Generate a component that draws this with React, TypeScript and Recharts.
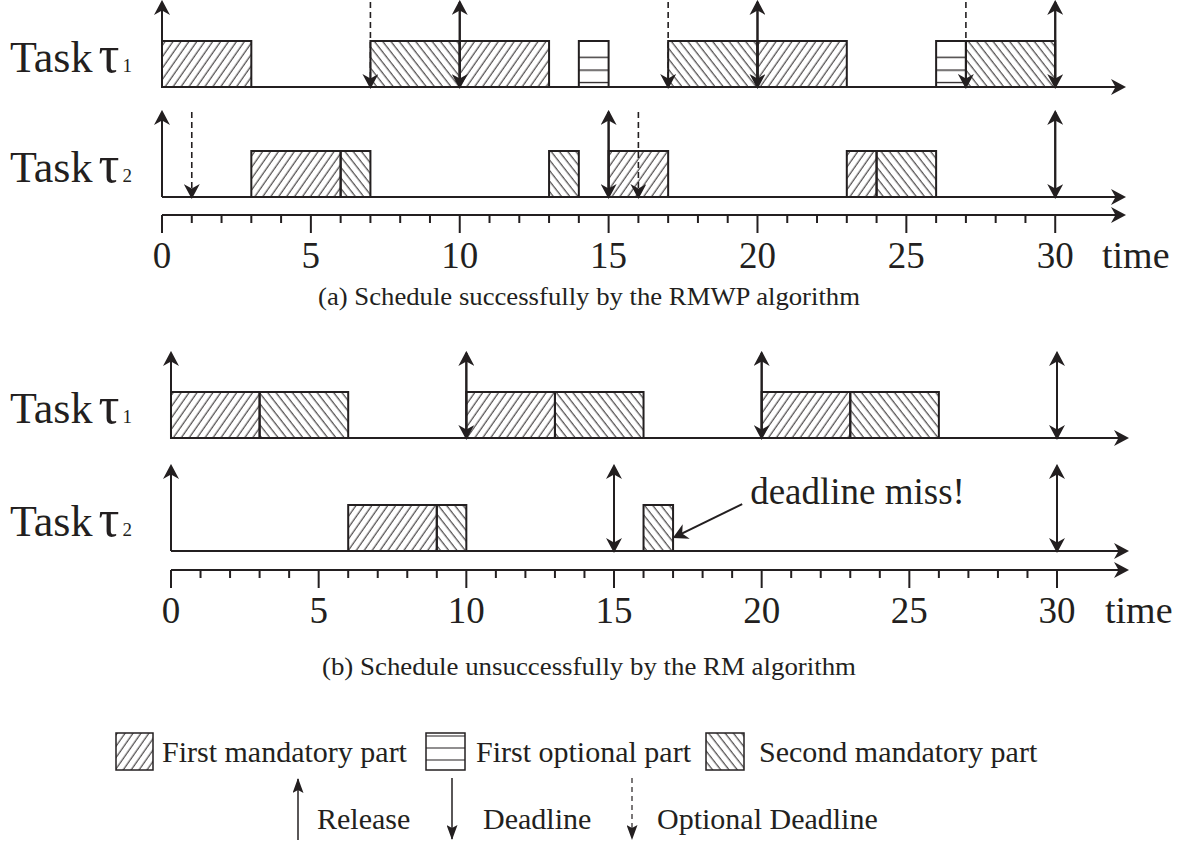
import React from "react";
import {
  ComposedChart,
  XAxis,
  YAxis,
  ReferenceArea,
  ReferenceLine,
  Label,
} from "recharts";

const INK = "#231f20";
const SERIF = '"Liberation Serif", "Times New Roman", Times, serif';

// time axis
const TIME_TICKS = [
  0, 1, 2, 3, 4, 5, 6, 7, 8, 9, 10, 11, 12, 13, 14, 15, 16, 17, 18, 19, 20,
  21, 22, 23, 24, 25, 26, 27, 28, 29, 30,
];
const MAJOR_TICKS = [0, 5, 10, 15, 20, 25, 30];
const TASK_NAMES = ["1", "2"];

type Part = "m1" | "o1" | "m2";
type Seg = { start: number; end: number; part: Part };

// (a) RMWP schedule
const rmwpTau1: Seg[] = [
  { start: 0, end: 3, part: "m1" },
  { start: 7, end: 10, part: "m2" },
  { start: 10, end: 13, part: "m1" },
  { start: 14, end: 15, part: "o1" },
  { start: 17, end: 20, part: "m2" },
  { start: 20, end: 23, part: "m1" },
  { start: 26, end: 27, part: "o1" },
  { start: 27, end: 30, part: "m2" },
];
const rmwpTau2: Seg[] = [
  { start: 3, end: 6, part: "m1" },
  { start: 6, end: 7, part: "m2" },
  { start: 13, end: 14, part: "m2" },
  { start: 15, end: 17, part: "m1" },
  { start: 23, end: 24, part: "m1" },
  { start: 24, end: 26, part: "m2" },
];
const rmwpTau1Release = [0, 10, 20, 30];
const rmwpTau1Deadline = [10, 20, 30];
const rmwpTau1OptDeadline = [7, 17, 27];
const rmwpTau2Release = [0, 15, 30];
const rmwpTau2Deadline = [15, 30];
const rmwpTau2OptDeadline = [1, 16];

// (b) RM schedule
const rmTau1: Seg[] = [
  { start: 0, end: 3, part: "m1" },
  { start: 3, end: 6, part: "m2" },
  { start: 10, end: 13, part: "m1" },
  { start: 13, end: 16, part: "m2" },
  { start: 20, end: 23, part: "m1" },
  { start: 23, end: 26, part: "m2" },
];
const rmTau2: Seg[] = [
  { start: 6, end: 9, part: "m1" },
  { start: 9, end: 10, part: "m2" },
  { start: 16, end: 17, part: "m2" },
];
const rmTau1Release = [0, 10, 20, 30];
const rmTau1Deadline = [10, 20, 30];
const rmTau2Release = [0, 15, 30];
const rmTau2Deadline = [15, 30];

// "deadline miss!" note: from text to end of the late job
const missFrom = { t: 19.34, y: 1.02 };
const missTo = { t: 17.05, y: 0.3 };

const BOX_H = 1;
const ARROW_H = 1.85;

const PATTERN: Record<Part, string> = {
  m1: "url(#hatchFwd)",
  o1: "url(#hatchOpt)",
  m2: "url(#hatchBack)",
};

type Row = {
  base: number;
  segs: Seg[];
  release: number[];
  deadline: number[];
  opt: number[];
};

const arrowLine =
  (head: string, width: number, dash?: string) => (p: any) =>
    (
      <line
        x1={p.x1}
        y1={p.y1}
        x2={p.x2}
        y2={p.y2}
        stroke={INK}
        strokeWidth={width}
        strokeDasharray={dash}
        markerEnd={`url(#${head})`}
      />
    );

const TimeTick = (p: any) => {
  const v = p.payload.value;
  const major = MAJOR_TICKS.includes(v);
  return (
    <g>
      <line
        x1={p.x}
        x2={p.x}
        y1={p.y}
        y2={p.y + (major ? 18 : 8)}
        stroke={INK}
        strokeWidth={2}
      />
      {major && (
        <text
          x={p.x}
          y={p.y + 53}
          textAnchor="middle"
          fontSize={37}
          fontFamily={SERIF}
          fill={INK}
        >
          {v}
        </text>
      )}
    </g>
  );
};

const TimeLabel = (p: any) => {
  const vb = p.viewBox;
  return (
    <text
      x={vb.x + vb.width - 22}
      y={vb.y + 53}
      fontSize={38}
      fontFamily={SERIF}
      fill={INK}
    >
      time
    </text>
  );
};

const taskTick = (rows: Row[]) => (p: any) => {
  const idx = rows.findIndex((r) => Math.abs(r.base - p.payload.value) < 1e-6);
  return (
    <text x={10} y={p.y - 15} fontFamily={SERIF} fontSize={44} fill={INK}>
      Task
      <tspan dx={6} fontSize={52}>
        τ
      </tspan>
      <tspan dx={3} fontSize={19}>
        {TASK_NAMES[idx]}
      </tspan>
    </text>
  );
};

type ScheduleProps = {
  top: number;
  height: number;
  marginTop: number;
  plotLeft: number;
  plotRight: number;
  xMax: number;
  yMin: number;
  yMax: number;
  rows: Row[];
  miss?: boolean;
};

const Schedule: React.FC<ScheduleProps> = ({
  top,
  height,
  marginTop,
  plotLeft,
  plotRight,
  xMax,
  yMin,
  yMax,
  rows,
  miss,
}) => (
  <div style={{ position: "absolute", left: 0, top }}>
    <ComposedChart
      width={1186}
      height={height}
      margin={{ top: marginTop, right: 1186 - plotRight, bottom: 0, left: 0 }}
    >
      <XAxis
        type="number"
        dataKey="t"
        domain={[0, xMax]}
        ticks={TIME_TICKS}
        interval={0}
        tickSize={0}
        tickMargin={0}
        tickLine={false}
        tick={TimeTick}
        axisLine={{ stroke: INK, strokeWidth: 2, markerEnd: "url(#axisHead)" }}
        height={60}
        allowDataOverflow
      >
        <Label content={TimeLabel} />
      </XAxis>
      <YAxis
        type="number"
        domain={[yMin, yMax]}
        ticks={rows.map((r) => r.base).sort((a, b) => a - b)}
        interval={0}
        width={plotLeft}
        axisLine={false}
        tickLine={false}
        tickSize={0}
        tickMargin={0}
        tick={taskTick(rows)}
        allowDataOverflow
      />
      {rows.map((r, ri) =>
        r.segs.map((s, i) => (
          <ReferenceArea
            key={`seg-${ri}-${i}`}
            x1={s.start}
            x2={s.end}
            y1={r.base}
            y2={r.base + BOX_H}
            fill={PATTERN[s.part]}
            fillOpacity={1}
            stroke={INK}
            strokeWidth={2}
            ifOverflow="visible"
          />
        ))
      )}
      {rows.map((r, ri) => (
        <ReferenceLine
          key={`base-${ri}`}
          segment={[
            { x: 0, y: r.base },
            { x: xMax, y: r.base },
          ]}
          ifOverflow="visible"
          shape={arrowLine("axisHead", 2)}
        />
      ))}
      {rows.map((r, ri) =>
        r.release.map((t) => (
          <ReferenceLine
            key={`rel-${ri}-${t}`}
            segment={[
              { x: t, y: r.base },
              { x: t, y: r.base + ARROW_H },
            ]}
            ifOverflow="visible"
            shape={arrowLine("head", 2)}
          />
        ))
      )}
      {rows.map((r, ri) =>
        r.deadline.map((t) => (
          <ReferenceLine
            key={`dl-${ri}-${t}`}
            segment={[
              { x: t, y: r.base + ARROW_H },
              { x: t, y: r.base },
            ]}
            ifOverflow="visible"
            shape={arrowLine("head", 2)}
          />
        ))
      )}
      {rows.map((r, ri) =>
        r.opt.map((t) => (
          <ReferenceLine
            key={`opt-${ri}-${t}`}
            segment={[
              { x: t, y: r.base + ARROW_H },
              { x: t, y: r.base },
            ]}
            ifOverflow="visible"
            shape={arrowLine("head", 1.6, "6 4")}
          />
        ))
      )}
      {miss && (
        <ReferenceLine
          segment={[
            { x: missFrom.t, y: missFrom.y },
            { x: missTo.t, y: missTo.y },
          ]}
          ifOverflow="visible"
          shape={(p: any) => (
            <g>
              {arrowLine("head", 2)(p)}
              <text
                x={p.x1 + 8}
                y={p.y1}
                fontSize={37}
                fontFamily={SERIF}
                fill={INK}
              >
                deadline miss!
              </text>
            </g>
          )}
        />
      )}
    </ComposedChart>
  </div>
);

const Defs = () => (
  <svg width={0} height={0} style={{ position: "absolute" }}>
    <defs>
      <pattern
        id="hatchFwd"
        patternUnits="userSpaceOnUse"
        width={6.5}
        height={10}
        patternTransform="rotate(35)"
      >
        <line x1={3} y1={0} x2={3} y2={10} stroke={INK} strokeWidth={1} />
      </pattern>
      <pattern
        id="hatchBack"
        patternUnits="userSpaceOnUse"
        width={6.5}
        height={10}
        patternTransform="rotate(-38)"
      >
        <line x1={3} y1={0} x2={3} y2={10} stroke={INK} strokeWidth={1} />
      </pattern>
      <pattern
        id="hatchOpt"
        patternUnits="objectBoundingBox"
        patternContentUnits="objectBoundingBox"
        width={1}
        height={1}
      >
        <rect x={0} y={0.34} width={1} height={0.028} fill={INK} />
        <rect x={0} y={0.62} width={1} height={0.028} fill={INK} />
        <rect x={0} y={0.89} width={1} height={0.028} fill={INK} />
      </pattern>
      <marker
        id="head"
        viewBox="0 0 15 16"
        markerWidth={15}
        markerHeight={16}
        refX={13}
        refY={8}
        orient="auto"
        markerUnits="userSpaceOnUse"
      >
        <path d="M0,0 L15,8 L0,16 L4.5,8 Z" fill={INK} />
      </marker>
      <marker
        id="axisHead"
        viewBox="0 0 15 16"
        markerWidth={15}
        markerHeight={16}
        refX={13}
        refY={8}
        orient="auto"
        markerUnits="userSpaceOnUse"
      >
        <path d="M0,0 L15,8 L0,16 L4.5,8 Z" fill={INK} />
      </marker>
      <marker
        id="smallHead"
        viewBox="0 0 15 11"
        markerWidth={15}
        markerHeight={11}
        refX={14}
        refY={5.5}
        orient="auto"
        markerUnits="userSpaceOnUse"
      >
        <path d="M0,0 L15,5.5 L0,11 L3,5.5 Z" fill={INK} />
      </marker>
    </defs>
  </svg>
);

const LegendAndCaptions = () => {
  const txt = { fontFamily: SERIF, fill: INK };
  return (
    <svg
      width={1186}
      height={845}
      style={{ position: "absolute", left: 0, top: 0, pointerEvents: "none" }}
    >
      <text
        x={589}
        y={305}
        textAnchor="middle"
        fontSize={25}
        textLength={542}
        lengthAdjust="spacingAndGlyphs"
        {...txt}
      >
        (a) Schedule successfully by the RMWP algorithm
      </text>
      <text
        x={589}
        y={675}
        textAnchor="middle"
        fontSize={25}
        textLength={534}
        lengthAdjust="spacingAndGlyphs"
        {...txt}
      >
        (b) Schedule unsuccessfully by the RM algorithm
      </text>

      <rect x={116} y={733} width={37} height={37} fill="url(#hatchFwd)" stroke={INK} strokeWidth={1.5} />
      <text x={162} y={762} fontSize={30} {...txt}>
        First mandatory part
      </text>
      <rect x={426} y={733} width={39} height={37} fill="#fff" stroke={INK} strokeWidth={1.5} />
      <line x1={426} x2={465} y1={736} y2={736} stroke={INK} strokeWidth={1.2} />
      <line x1={426} x2={465} y1={748} y2={748} stroke={INK} strokeWidth={1.2} />
      <line x1={426} x2={465} y1={760} y2={760} stroke={INK} strokeWidth={1.2} />
      <text x={476} y={762} fontSize={30} {...txt}>
        First optional part
      </text>
      <rect x={706} y={733} width={38} height={37} fill="url(#hatchBack)" stroke={INK} strokeWidth={1.5} />
      <text x={759} y={762} fontSize={30} {...txt}>
        Second mandatory part
      </text>

      <line x1={298} y1={840} x2={298} y2={779} stroke={INK} strokeWidth={1.5} markerEnd="url(#smallHead)" />
      <text x={317} y={829} fontSize={30} {...txt}>
        Release
      </text>
      <line x1={452} y1={778} x2={452} y2={839} stroke={INK} strokeWidth={1.5} markerEnd="url(#smallHead)" />
      <text x={483} y={829} fontSize={30} {...txt}>
        Deadline
      </text>
      <line x1={632} y1={778} x2={632} y2={839} stroke={INK} strokeWidth={1.2} strokeDasharray="5 4" markerEnd="url(#smallHead)" />
      <text x={657} y={829} fontSize={30} {...txt}>
        Optional Deadline
      </text>
    </svg>
  );
};

const App: React.FC = () => {
  const rowsA: Row[] = [
    { base: 2.391, segs: rmwpTau1, release: rmwpTau1Release, deadline: rmwpTau1Deadline, opt: rmwpTau1OptDeadline },
    { base: 0, segs: rmwpTau2, release: rmwpTau2Release, deadline: rmwpTau2Deadline, opt: rmwpTau2OptDeadline },
  ];
  const rowsB: Row[] = [
    { base: 2.457, segs: rmTau1, release: rmTau1Release, deadline: rmTau1Deadline, opt: [] },
    { base: 0, segs: rmTau2, release: rmTau2Release, deadline: rmTau2Deadline, opt: [] },
  ];
  return (
    <div
      style={{
        position: "absolute",
        left: 0,
        top: 0,
        width: 1186,
        height: 845,
        background: "#fff",
        overflow: "hidden",
      }}
    >
      <Defs />
      <Schedule
        top={0}
        height={275}
        marginTop={2}
        plotLeft={162}
        plotRight={1124}
        xMax={32.31}
        yMin={-0.391}
        yMax={4.239}
        rows={rowsA}
      />
      <Schedule
        top={340}
        height={290}
        marginTop={11}
        plotLeft={171}
        plotRight={1127}
        xMax={32.37}
        yMin={-0.413}
        yMax={4.348}
        rows={rowsB}
        miss
      />
      <LegendAndCaptions />
    </div>
  );
};

export default App;
